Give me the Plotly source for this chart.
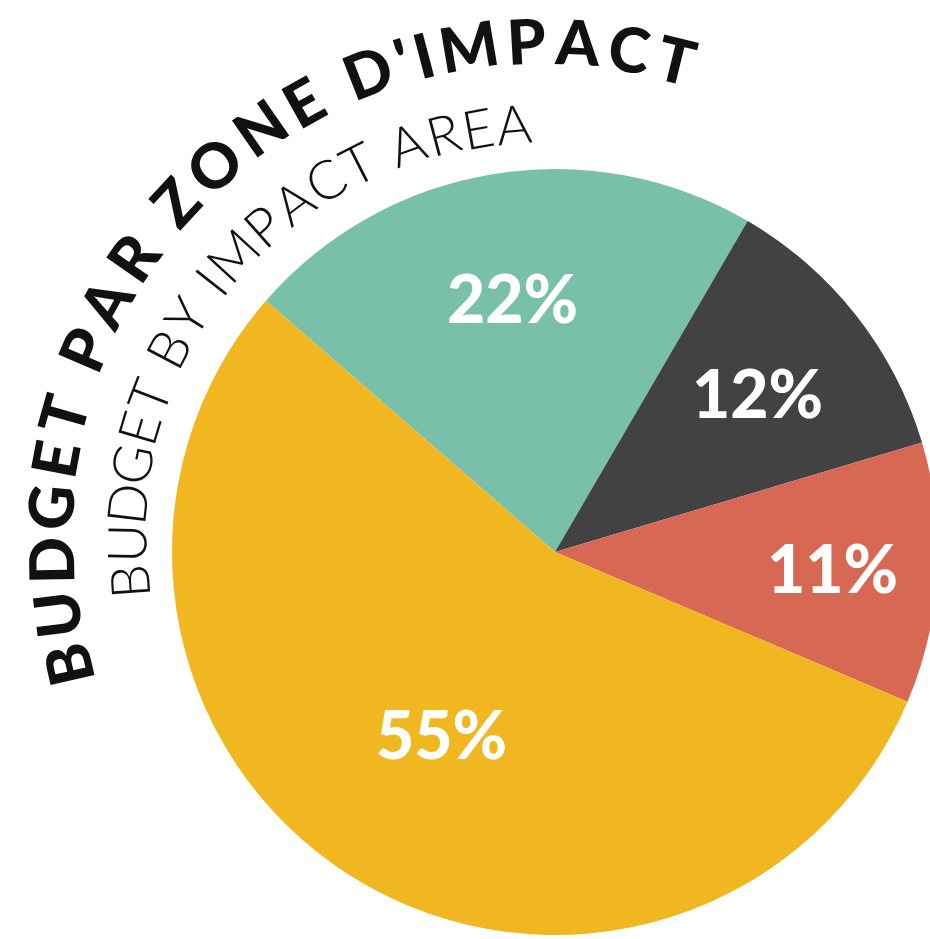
import math
import plotly.graph_objects as go

# ---------------- data ----------------
categories = ["Zone 1", "Zone 2", "Zone 3", "Zone 4"]
values = [22, 12, 11, 55]
pct_labels = ["22%", "12%", "11%", "55%"]
title_text = "BUDGET PAR ZONE D'IMPACT"
subtitle_text = "BUDGET BY IMPACT AREA"

# ---------------- style ----------------
colors = ["#78C0A9", "#424143", "#D76954", "#F1B720"]
W, H = 940, 939                      # canvas slightly wider: pie runs off the right edge
cx, cy, R = 555, 552, 383            # pie centre / radius in px
rotation = -49
label_radius = [0.674, 0.674, 0.725, 0.56]

def to_paper(px, py):
    return px / W, 1 - py / H

# approximate glyph widths (em) for arc layout
widths = {" ": 0.28, "I": 0.32, "'": 0.25, "M": 0.88, "O": 0.78, "N": 0.75,
          "D": 0.72, "U": 0.72, "G": 0.72, "A": 0.72, "C": 0.66, "B": 0.66,
          "R": 0.66, "P": 0.64, "Z": 0.62, "E": 0.58, "T": 0.60, "Y": 0.64}

def arc_annotations(text, r0, r1, bulge, th0, th1, size, weight, family):
    ws = [widths.get(c, 0.65) for c in text]
    centers = []
    cum = 0
    for w in ws:
        centers.append(cum + w / 2)
        cum += w
    c0, c1 = centers[0], centers[-1]
    anns = []
    for ch, c in zip(text, centers):
        if ch == " ":
            continue
        s = (c - c0) / (c1 - c0)
        th = th0 + (th1 - th0) * s
        r = r0 + (r1 - r0) * s + bulge * math.sin(math.pi * s)
        t = math.radians(th)
        px = cx + r * math.sin(t)
        py = cy - r * math.cos(t)
        x, y = to_paper(px, py)
        anns.append(dict(text=ch, x=x, y=y, xref="paper", yref="paper",
                         xanchor="center", yanchor="middle", showarrow=False,
                         textangle=th,
                         font=dict(family=family, size=size, color="#111111",
                                   weight=weight)))
    return anns

fig = go.Figure(go.Pie(
    labels=categories, values=values, sort=False, direction="clockwise",
    rotation=rotation, marker=dict(colors=colors, line=dict(width=0)),
    textinfo="none", hoverinfo="label+percent", showlegend=False,
    domain=dict(x=[max(0, (cx - R) / W), min(1, (cx + R) / W)],
                y=[max(0, 1 - (cy + R) / H), min(1, 1 - (cy - R) / H)]),
))

annotations = []
total = sum(values)
cum = 0
for v, lab, f in zip(values, pct_labels, label_radius):
    th = math.radians(rotation + 360 * (cum + v / 2) / total)
    cum += v
    px = cx + f * R * math.sin(th)
    py = cy - f * R * math.cos(th)
    x, y = to_paper(px, py)
    annotations.append(dict(text=lab, x=x, y=y, xref="paper", yref="paper",
                            xanchor="center", yanchor="middle", showarrow=False,
                            font=dict(family="Lato", size=66, color="white",
                                      weight=900)))

annotations += arc_annotations(title_text, 500, 508, 13, -103, 13.8, 62, 900, "Lato")
annotations += arc_annotations(subtitle_text, 427, 430, 10, -94, -5.5, 54, 300, "Lato")

fig.update_layout(width=W, height=H, margin=dict(l=0, r=0, t=0, b=0),
                  paper_bgcolor="white", plot_bgcolor="white",
                  annotations=annotations)

fig.write_html(
    "out.html",
    config={"displayModeBar": False},
    post_script="document.body.style.margin='0';"
                "document.body.style.overflow='hidden';"
                "document.documentElement.style.overflow='hidden';",
)
